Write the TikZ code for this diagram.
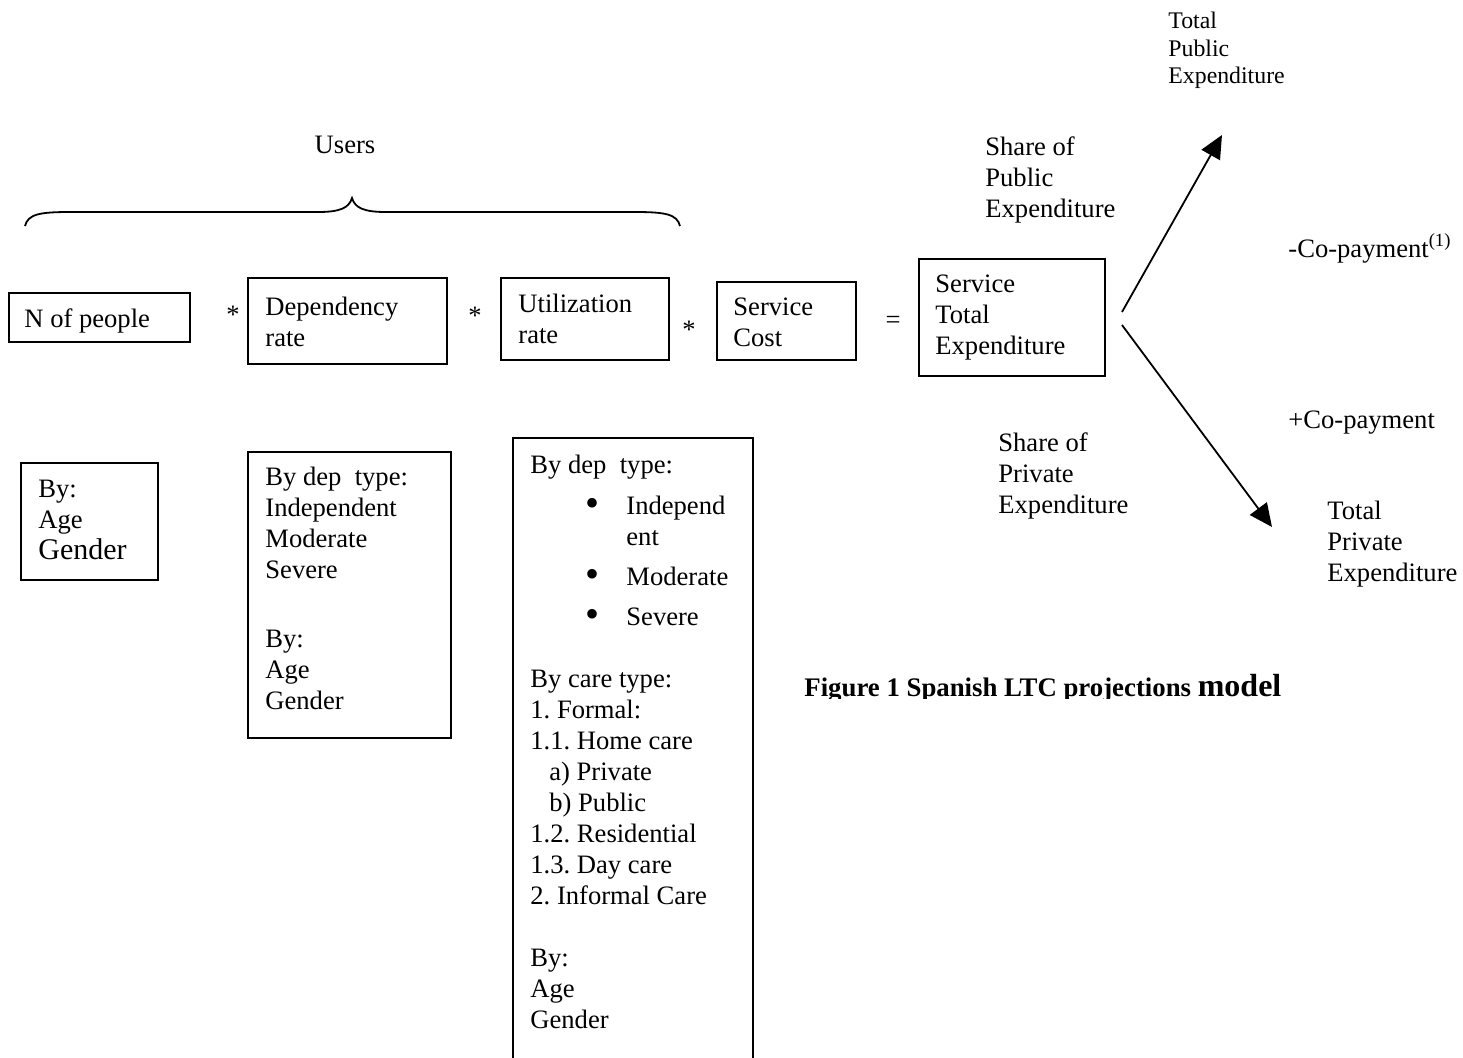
\documentclass[tikz,border=0pt]{standalone}
\usepackage{fontspec}
\setmainfont{Liberation Serif}
\usetikzlibrary{arrows.meta}
\frenchspacing
\newcommand{\mybul}{{\fontsize{20}{15.5}\selectfont\raisebox{-1pt}{\textbullet}}}
\begin{document}
\begin{tikzpicture}[x=0.5pt,y=-0.5pt,
  box/.style={draw,line width=0.9pt,inner sep=0,anchor=north west},
  txt/.style={inner sep=0,anchor=north west,align=left,font=\fontsize{13.3}{15.5}\selectfont},
  smalltxt/.style={inner sep=0,anchor=north west,align=left,font=\fontsize{11.9}{13.75}\selectfont},
  optxt/.style={inner sep=0,anchor=base,font=\fontsize{13.3}{15.5}\selectfont},
  arr/.style={line width=0.9pt,-{Triangle[length=11.5pt,width=10.5pt]}}]
\clip (0,0) rectangle (1463,1057);
\fill[white] (0,0) rectangle (1463,1057);
% top row boxes
\node[box,minimum width=90.5pt,minimum height=24.5pt] (bN) at (8,292) {};
\node[box,minimum width=99.5pt,minimum height=43pt] (bDep) at (247,277) {};
\node[box,minimum width=84pt,minimum height=41pt] (bUtil) at (500,277) {};
\node[box,minimum width=69.5pt,minimum height=39pt] (bCost) at (716,281) {};
\node[box,minimum width=93pt,minimum height=58.5pt] (bTot) at (918,258) {};
% bottom boxes
\node[box,minimum width=68.5pt,minimum height=58.5pt] (bBy) at (20,462) {};
\node[box,minimum width=101.5pt,minimum height=143pt] (bDepT) at (247,451) {};
\node[box,minimum width=120pt,minimum height=316pt] (bUtilT) at (512,437) {};
% texts in boxes
\node[txt] (tN) at (24,308) {N of people};
\node[txt] (tDep) at (265,297) {Dependency\\rate};
\node[txt] (tUtil) at (518,294) {Utilization\\rate};
\node[txt] (tCost) at (733,297) {Service\\Cost};
\node[txt] (tTot) at (935,274) {Service\\Total\\Expenditure};
\node[txt] (tBy) at (38,480) {By:\\Age\\{\fontsize{15}{15.5}\selectfont Gender}};
\node[txt] (tDepT) at (265,467) {By dep~ type:\\Independent\\Moderate\\Severe\\[19pt]By:\\Age\\Gender};
\node[txt] (tUtilT) at (530,455) {By dep~ type:\\[5pt]
\hspace*{27.5pt}\makebox[20.5pt][l]{\mybul}Independ\\
\hspace*{48pt}ent\\[4.5pt]
\hspace*{27.5pt}\makebox[20.5pt][l]{\mybul}Moderate\\[4.5pt]
\hspace*{27.5pt}\makebox[20.5pt][l]{\mybul}Severe\\[15.5pt]
By care type:\\
1. Formal:\\
1.1. Home care\\
\hspace*{9.5pt}a) Private\\
\hspace*{9.5pt}b) Public\\
1.2. Residential\\
1.3. Day care\\
2. Informal Care\\[15.5pt]
By:\\Age\\Gender};
% operators
\node[optxt] (op1) at (233,323) {*};
\node[optxt] (op2) at (475,324) {*};
\node[optxt] (op3) at (689,338) {*};
\node[optxt] (op4) at (893,328) {=};
% users brace
\node[optxt] (tUsers) at (345,153) {Users};
\draw[line width=0.9pt] (25,226) .. controls (28,214) and (40,212) .. (70,212) -- (318,212)
  .. controls (340,212) and (349,208) .. (352,198)
  .. controls (355,208) and (364,212) .. (386,212) -- (635,212)
  .. controls (665,212) and (677,214) .. (680,226);
% right side texts
\node[smalltxt] (tTotPub) at (1168,12) {Total\\Public\\Expenditure};
\node[txt] (tShPub) at (985,136) {Share of\\Public\\Expenditure};
\node[txt] (tShPriv) at (998,432) {Share of\\Private\\Expenditure};
\node[txt] (tTotPriv) at (1327,501) {Total\\Private\\Expenditure};
\node[optxt,anchor=base west] (tCoM) at (1288,257) {-Co-payment\textsuperscript{(1)}};
\node[optxt,anchor=base west] (tCoP) at (1288,428) {+Co-payment};
% arrows
\coordinate (s1) at (1122,312);
\coordinate (e1) at (1222,135);
\coordinate (s2) at (1122,325);
\coordinate (e2) at (1272,527);
\draw[arr] (s1) -- (e1);
\draw[arr] (s2) -- (e2);
% caption
\begin{scope}
\clip (780,600) rectangle (1320,698);
\node[optxt,anchor=base west,font=\fontsize{13.4}{15.5}\selectfont\bfseries] (cap) at (804,696) {Figure 1 Spanish LTC projections {\fontsize{16}{15.5}\selectfont model}};
\end{scope}
\end{tikzpicture}
\end{document}
